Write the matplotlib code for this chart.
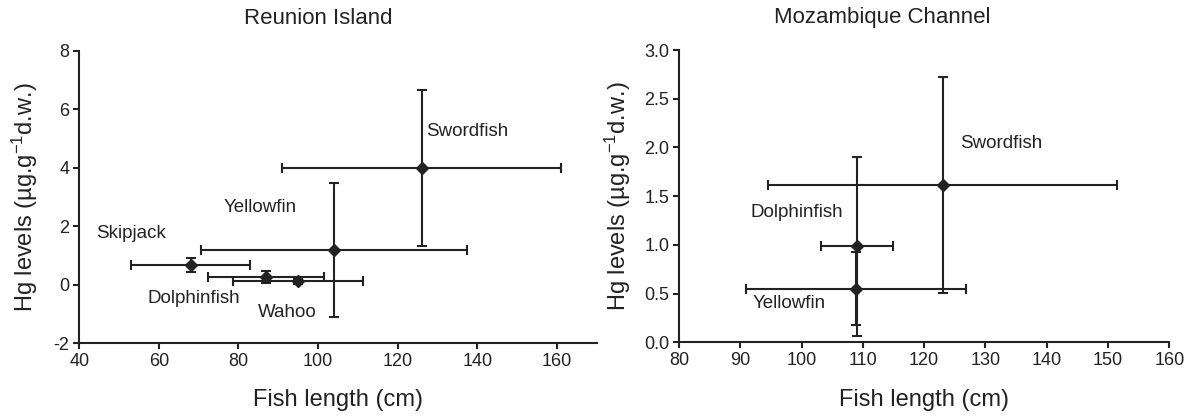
import matplotlib
matplotlib.use("Agg")
import matplotlib.pyplot as plt

plt.rcParams["font.family"] = ["Liberation Sans", "DejaVu Sans"]
plt.rcParams["axes.unicode_minus"] = False
plt.rcParams["mathtext.default"] = "regular"

INK = "#222222"

# Reunion Island: mean length, length sd, mean Hg, Hg sd
reu_species = ["Skipjack", "Dolphinfish", "Wahoo", "Yellowfin", "Swordfish"]
reu_len = [68, 87, 95, 104, 126]
reu_len_err = [15, 14.6, 16.3, 33.5, 35]
reu_hg = [0.67, 0.26, 0.12, 1.19, 4.0]
reu_hg_err = [0.24, 0.21, 0.08, 2.3, 2.67]
reu_label_xy = [(44.2, 1.77), (57.2, -0.45), (84.8, -0.95), (76.2, 2.64), (127.1, 5.24)]

# Mozambique Channel
moz_species = ["Yellowfin", "Dolphinfish", "Swordfish"]
moz_len = [108.9, 109, 123]
moz_len_err = [18, 5.9, 28.4]
moz_hg = [0.552, 0.985, 1.616]
moz_hg_err = [0.375, 0.92, 1.11]
moz_label_xy = [(92.0, 0.40), (91.6, 1.33), (125.8, 2.04)]

fig = plt.figure(figsize=(11.96, 4.17), dpi=100)
ax1 = fig.add_axes([0.0663, 0.1767, 0.4326, 0.701])
ax2 = fig.add_axes([0.5677, 0.179, 0.41, 0.701])


def panel(ax, x, xe, y, ye, names, label_xy):
    ax.errorbar(x, y, xerr=xe, yerr=ye, fmt="D", color=INK, ms=6,
                elinewidth=1.5, capsize=3.5, capthick=1.5, ecolor=INK)
    for name, (lx, ly) in zip(names, label_xy):
        ax.text(lx, ly, name, fontsize=13.5, color=INK, va="center", ha="left")
    for s in ["top", "right"]:
        ax.spines[s].set_visible(False)
    for s in ["left", "bottom"]:
        ax.spines[s].set_linewidth(1.5)
        ax.spines[s].set_color(INK)
    ax.tick_params(direction="out", length=4, width=1.5, color=INK,
                   labelsize=13, labelcolor=INK, pad=3)
    ax.set_xlabel("Fish length (cm)", fontsize=17, color=INK, labelpad=14)
    ax.set_ylabel("Hg levels (µg.g$^{-1}$d.w.)", fontsize=17, color=INK, labelpad=10)


panel(ax1, reu_len, reu_len_err, reu_hg, reu_hg_err, reu_species, reu_label_xy)
ax1.set_xlim(40, 170)
ax1.set_ylim(-2, 8)
ax1.set_xticks(range(40, 161, 20))
ax1.set_yticks(range(-2, 9, 2))

panel(ax2, moz_len, moz_len_err, moz_hg, moz_hg_err, moz_species, moz_label_xy)
ax2.set_xlim(80, 160)
ax2.set_ylim(0, 3)
ax2.set_xticks(range(80, 161, 10))
ax2.set_yticks([0, 0.5, 1, 1.5, 2, 2.5, 3])
ax2.yaxis.set_major_formatter(lambda v, _: f"{v:.1f}")
ax2.yaxis.labelpad = 8

fig.text(318 / 1196, 1 - 18 / 417, "Reunion Island", fontsize=16, color=INK,
         ha="center", va="center")
fig.text(882 / 1196, 1 - 18 / 417, "Mozambique Channel", fontsize=16, color=INK,
         ha="center", va="center")

fig.savefig("out.png", dpi=100)
